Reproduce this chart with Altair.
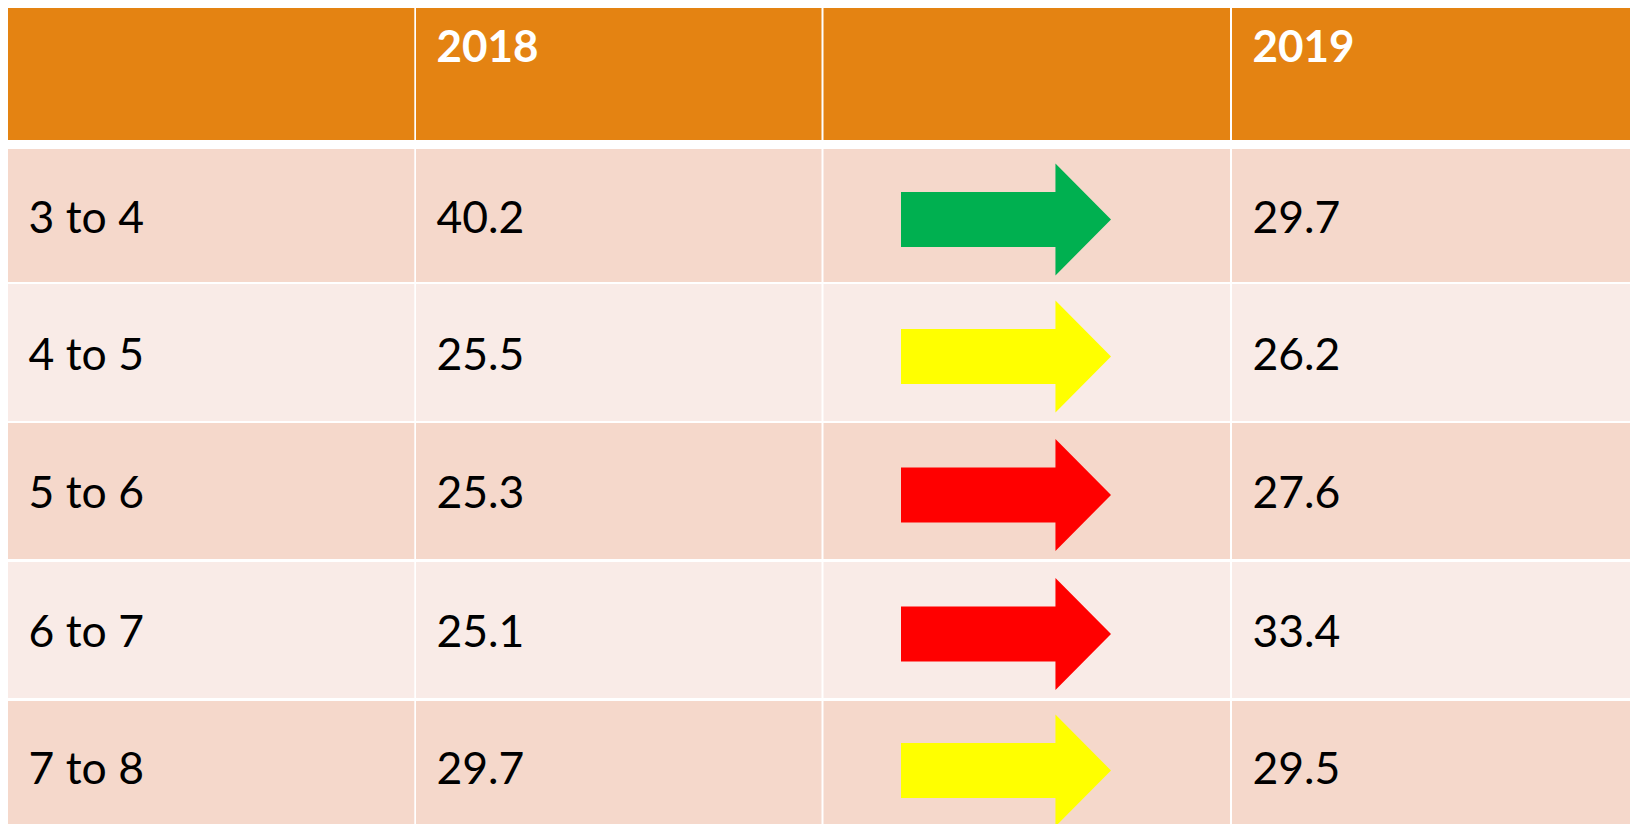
import altair as alt
import pandas as pd

# ---- data -------------------------------------------------------------
ranges = ["3 to 4", "4 to 5", "5 to 6", "6 to 7", "7 to 8"]
values_2018 = [40.2, 25.5, 25.3, 25.1, 29.7]
values_2019 = [29.7, 26.2, 27.6, 33.4, 29.5]
trend = ["better", "same", "worse", "worse", "same"]
headers = ["", "2018", "", "2019"]

# ---- layout (page pixel units) -------------------------------------------
W, H = 1622, 816
X0, Y0 = 8, 8
COL_LEFT = [8, 416, 823.5, 1232]
COL_RIGHT = [414.3, 821.5, 1230, 1630]
HEAD_TOP, HEAD_BOTTOM = 8, 140
ROW_TOP = [149, 284, 423, 562, 701]
ROW_BOTTOM = [282, 421, 559, 698, 824]
ROW_CENTER_REF = [215.5, 352.5, 491, 630, 766.5]
TEXT_PAD = 20.5
ARROW_DX = 182.5
ARROW_DY = 4

ORANGE = "#E48312"
DARK = "#F5D8CB"
LIGHT = "#F9EBE7"

# ---- tables -------------------------------------------------------------
cells = []
for c in range(4):
    cells.append(dict(x=COL_LEFT[c], x2=COL_RIGHT[c], y=HEAD_TOP, y2=HEAD_BOTTOM, fill=ORANGE))
for r in range(len(ranges)):
    for c in range(4):
        cells.append(dict(x=COL_LEFT[c], x2=COL_RIGHT[c], y=ROW_TOP[r], y2=ROW_BOTTOM[r],
                          fill=DARK if r % 2 == 0 else LIGHT))
cells_df = pd.DataFrame(cells)

texts = []
for r in range(len(ranges)):
    yc = ROW_CENTER_REF[r]
    texts.append(dict(x=COL_LEFT[0] + TEXT_PAD, y=yc, label=ranges[r]))
    texts.append(dict(x=COL_LEFT[1] + TEXT_PAD, y=yc, label=f"{values_2018[r]:.1f}"))
    texts.append(dict(x=COL_LEFT[3] + TEXT_PAD, y=yc, label=f"{values_2019[r]:.1f}"))
texts_df = pd.DataFrame(texts)

head_df = pd.DataFrame([dict(x=COL_LEFT[c] + TEXT_PAD, y=62, label=headers[c])
                        for c in range(4) if headers[c]])

arrow_df = pd.DataFrame([dict(x=COL_LEFT[2] + ARROW_DX,
                              y=ROW_CENTER_REF[r] + ARROW_DY,
                              trend=trend[r]) for r in range(len(ranges))])

xs = alt.Scale(domain=[X0, X0 + W], nice=False, zero=False)
ys = alt.Scale(domain=[Y0, Y0 + H], nice=False, zero=False, reverse=True)

rects = alt.Chart(cells_df).mark_rect(strokeWidth=0).encode(
    x=alt.X("x:Q", scale=xs, axis=None),
    x2="x2:Q",
    y=alt.Y("y:Q", scale=ys, axis=None),
    y2="y2:Q",
    color=alt.Color("fill:N", scale=None),
)

body_text = alt.Chart(texts_df).mark_text(
    align="left", baseline="alphabetic", dy=17, fontSize=44.5, font="Lato", color="black"
).encode(
    x=alt.X("x:Q", scale=xs, axis=None),
    y=alt.Y("y:Q", scale=ys, axis=None),
    text="label:N",
)

head_text = alt.Chart(head_df).mark_text(
    align="left", baseline="alphabetic", fontSize=44, font="Lato", fontWeight="bold", color="white"
).encode(
    x=alt.X("x:Q", scale=xs, axis=None),
    y=alt.Y("y:Q", scale=ys, axis=None),
    text="label:N",
)

ARROW_PATH = "M-1,-0.262 L0.471,-0.262 L0.471,-0.533 L1,0 L0.471,0.533 L0.471,0.262 L-1,0.262 Z"
arrows = alt.Chart(arrow_df).mark_point(
    shape=ARROW_PATH, size=210 * 210, filled=True, opacity=1, strokeWidth=0
).encode(
    x=alt.X("x:Q", scale=xs, axis=None),
    y=alt.Y("y:Q", scale=ys, axis=None),
    color=alt.Color("trend:N", legend=None,
                    scale=alt.Scale(domain=["better", "same", "worse"],
                                    range=["#00B050", "#FFFF00", "#FF0000"])),
)

chart = alt.layer(rects, arrows, body_text, head_text).properties(
    width=W, height=H, padding=0, autosize=alt.AutoSizeParams(type="none")
).configure_view(strokeWidth=0)

chart.save("out.html", embed_options={"renderer": "svg", "actions": False})
